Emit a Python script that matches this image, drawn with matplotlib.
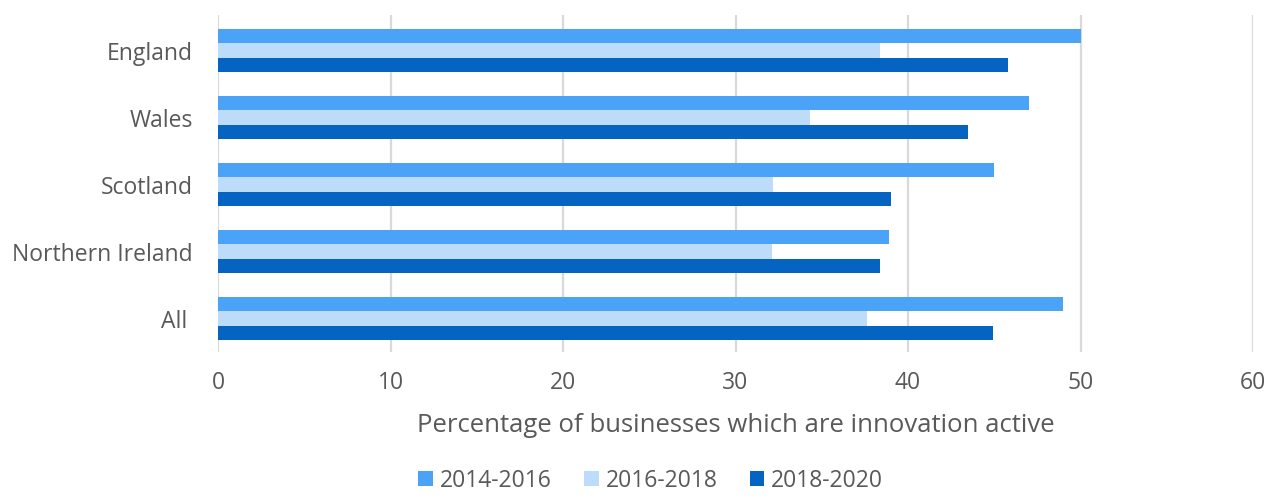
import matplotlib.pyplot as plt
import numpy as np

plt.rcParams['font.family'] = ['Open Sans', 'DejaVu Sans']

# data
regions = ['England', 'Wales', 'Scotland', 'Northern Ireland', 'All ']
periods = ['2014-2016', '2016-2018', '2018-2020']
pct_2014_2016 = [50.0, 47.0, 45.0, 38.9, 49.0]
pct_2016_2018 = [38.4, 34.3, 32.2, 32.1, 37.6]
pct_2018_2020 = [45.8, 43.5, 39.0, 38.4, 44.9]
colors = ['#4BA3F8', '#BDDCFA', '#0563C1']

series = [pct_2014_2016, pct_2016_2018, pct_2018_2020]

fig = plt.figure(figsize=(12.71, 5.01), dpi=100)
ax = fig.add_axes([218 / 1271, 1 - 352 / 501, (1253 - 218) / 1271, (352 - 15) / 501])

y = np.arange(len(regions))
h = 0.21
for i, (vals, lab, col) in enumerate(zip(series, periods, colors)):
    ax.barh(y + (i - 1) * h, vals, height=h, color=col, label=lab, zorder=3)

ax.set_ylim(4.5, -0.53)
ax.set_xlim(0, 60)
ax.set_xticks(range(0, 61, 10))
ax.set_yticks(y)
ax.set_yticklabels(regions)
ax.grid(axis='x', color='#D9D9D9', linewidth=1.6, zorder=0)
for s in ['top', 'right', 'bottom', 'left']:
    ax.spines[s].set_visible(False)
ax.tick_params(length=0, labelsize=16.5, colors='#595959')
ax.tick_params(axis='y', pad=18)
ax.tick_params(axis='x', pad=14)
ax.set_xlabel('Percentage of businesses which are innovation active',
              fontsize=18.5, color='#595959', labelpad=13)

fig.legend(loc='lower center', bbox_to_anchor=(0.512, -0.025), ncol=3, frameon=False,
           fontsize=16.5, labelcolor='#595959', handlelength=0.65, handleheight=0.65,
           columnspacing=1.4, handletextpad=0.3)

fig.savefig('out.png', dpi=100)
